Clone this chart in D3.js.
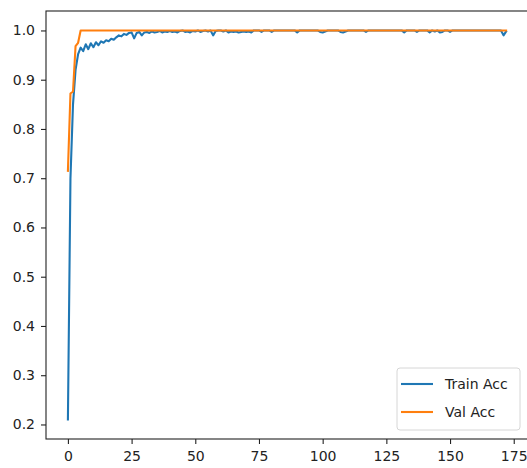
<!DOCTYPE html>
<html>
<head>
<meta charset="utf-8">
<script src="https://cdn.jsdelivr.net/npm/d3@7"></script>
<style>
	html, body { margin: 0; padding: 0; background: #fff; overflow: hidden; }
	svg { display: block; font-family: "DejaVu Sans", sans-serif; }
</style>
</head>
<body>
<svg id="chart" width="527" height="468"></svg>
<script>
'use strict';

// accuracy per epoch
const trainAcc = [
	0.21, 0.70, 0.85, 0.92, 0.952, 0.965, 0.958, 0.972, 0.962, 0.974,
	0.966, 0.976, 0.97, 0.978, 0.975, 0.98, 0.978, 0.983, 0.981, 0.986,
	0.99, 0.988, 0.993, 0.991, 0.995, 0.996, 0.984, 0.995, 0.997, 0.99,
	0.996, 0.997, 0.995, 0.998, 0.996, 0.997, 0.999, 0.996, 0.998, 0.997,
	0.999, 0.997, 0.998, 0.996, 0.999, 1.0, 0.997, 0.998, 0.996, 0.999,
	0.998, 1.0, 0.997, 0.999, 1.0, 0.998, 1.0, 0.99, 0.999, 1.0,
	1.0, 0.998, 1.0, 0.996, 0.998, 0.997, 0.998, 0.996, 0.997, 0.998,
	0.997, 0.998, 0.996, 1.0, 1.0, 1.0, 0.997, 1.0, 1.0, 1.0,
	0.997, 1.0, 1.0, 1.0, 1.0, 1.0, 1.0, 1.0, 1.0, 1.0,
	0.996, 1.0, 1.0, 1.0, 1.0, 1.0, 1.0, 1.0, 1.0, 0.997,
	0.996, 0.998, 1.0, 1.0, 1.0, 1.0, 1.0, 0.997, 0.996, 0.998,
	1.0, 1.0, 1.0, 1.0, 1.0, 1.0, 1.0, 0.997, 1.0, 1.0,
	1.0, 1.0, 1.0, 1.0, 1.0, 1.0, 1.0, 1.0, 1.0, 1.0,
	1.0, 1.0, 0.996, 1.0, 1.0, 1.0, 1.0, 0.997, 1.0, 1.0,
	1.0, 1.0, 0.996, 1.0, 0.998, 1.0, 0.996, 0.997, 1.0, 1.0,
	0.997, 1.0, 1.0, 1.0, 1.0, 1.0, 1.0, 1.0, 1.0, 1.0,
	1.0, 1.0, 1.0, 1.0, 1.0, 1.0, 1.0, 1.0, 1.0, 1.0,
	1.0, 0.99, 0.998
];

const valAcc = [0.715, 0.872, 0.876, 0.968, 0.975].concat(
	new Array(trainAcc.length - 5).fill(1.0));

const seriesNames = ['Train Acc', 'Val Acc'];
const seriesColors = ['#1f77b4', '#ff7f0e'];

const xTicks = [0, 25, 50, 75, 100, 125, 150, 175];
const yTicks = [0.2, 0.3, 0.4, 0.5, 0.6, 0.7, 0.8, 0.9, 1.0];

// right spine sits just past the window edge
let plot = { left: 46, right: 528, top: 11, bottom: 439 };

// matplotlib style 5% margins
let n = trainAcc.length - 1,
	allValues = trainAcc.concat(valAcc),
	yMin = d3.min(allValues), yMax = d3.max(allValues),
	yPad = (yMax - yMin) * 0.05,
	xPad = n * 0.05;

let x = d3.scaleLinear().domain([-xPad, n + xPad]).range([plot.left, plot.right]),
	y = d3.scaleLinear().domain([yMin - yPad, yMax + yPad]).range([plot.bottom, plot.top]);

let svg = d3.select('#chart');

let line = d3.line()
	.x((d, i) => x(i))
	.y(d => y(d));

svg.append('clipPath').attr('id', 'plotclip')
	.append('rect')
	.attr('x', plot.left).attr('y', plot.top)
	.attr('width', plot.right - plot.left).attr('height', plot.bottom - plot.top);

[trainAcc, valAcc].forEach((data, k) => {
	svg.append('path')
		.datum(data)
		.attr('clip-path', 'url(#plotclip)')
		.attr('fill', 'none')
		.attr('stroke', seriesColors[k])
		.attr('stroke-width', 2.1)
		.attr('stroke-linejoin', 'round')
		.attr('stroke-linecap', 'square')
		.attr('d', line);
});

// axes
let xAxis = d3.axisBottom(x).tickValues(xTicks).tickSize(5).tickPadding(7).tickSizeOuter(0),
	yAxis = d3.axisLeft(y).tickValues(yTicks).tickSize(5).tickPadding(6).tickSizeOuter(0)
		.tickFormat(d3.format('.1f'));

let gx = svg.append('g').attr('transform', `translate(0,${plot.bottom})`).call(xAxis),
	gy = svg.append('g').attr('transform', `translate(${plot.left},0)`).call(yAxis);

[gx, gy].forEach(g => {
	g.select('.domain').remove();
	g.selectAll('.tick line').attr('stroke', '#222').attr('stroke-width', 1.1);
	g.selectAll('.tick text').attr('fill', '#222').style('font-size', '14px')
		.style('font-family', '"DejaVu Sans", sans-serif');
});

// spines
svg.append('rect')
	.attr('x', plot.left).attr('y', plot.top)
	.attr('width', plot.right - plot.left).attr('height', plot.bottom - plot.top)
	.attr('fill', 'none')
	.attr('stroke', '#222')
	.attr('stroke-width', 1.1);

// legend, lower right
let legend = svg.append('g').attr('transform', 'translate(397,368)');
legend.append('rect')
	.attr('width', 123).attr('height', 62)
	.attr('rx', 3).attr('ry', 3)
	.attr('fill', '#fff').attr('fill-opacity', 0.8)
	.attr('stroke', '#d6d6d6').attr('stroke-width', 1);

seriesNames.forEach((name, k) => {
	let yy = 16 + k * 28;
	legend.append('line')
		.attr('x1', 4).attr('x2', 36)
		.attr('y1', yy).attr('y2', yy)
		.attr('stroke', seriesColors[k]).attr('stroke-width', 2.1);
	legend.append('text')
		.attr('x', 48).attr('y', yy)
		.attr('dy', '0.35em')
		.attr('fill', '#222')
		.style('font-size', '14px')
		.text(name);
});
</script>
</body>
</html>
